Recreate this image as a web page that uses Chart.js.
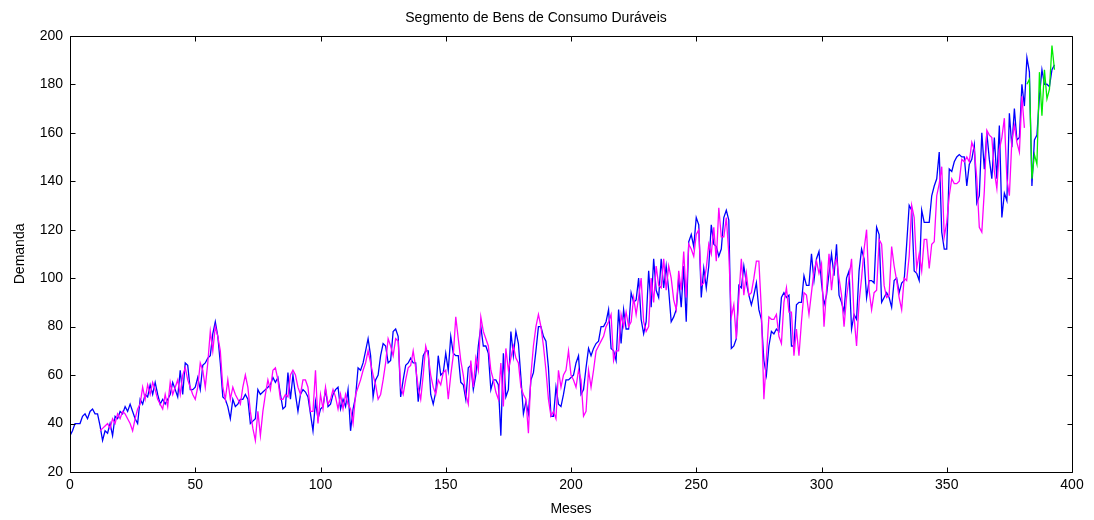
<!DOCTYPE html>
<html>
<head>
<meta charset="utf-8">
<script src="https://cdn.jsdelivr.net/npm/chart.js@4"></script>
<style>
  html, body { margin: 0; padding: 0; background: #fff; }
</style>
</head>
<body>
<canvas id="demandChart" width="1094" height="520"></canvas>
<script>
// Monthly demand, durable consumer goods segment
const observed = [
  35, 37, 40, 40, 40, 43, 44, 42, 45, 46, 44, 44, 39, 33, 37, 36, 40, 35, 43, 42,
  45, 44, 47, 45, 48, 45, 42, 40, 50, 48, 52, 51, 56, 52, 57, 52, 48, 50, 48, 50,
  52, 57, 54, 51, 62, 52, 65, 64, 54, 54, 55, 59, 54, 64, 65, 67, 68, 77, 82, 76,
  65, 51, 50, 47, 42, 50, 47, 48, 50, 50, 52, 50, 40, 41, 42, 54, 52, 53, 54, 55,
  56, 59, 57, 59, 52, 46, 47, 61, 50, 60, 52, 45, 52, 54, 53, 51, 44, 37, 49, 42,
  46, 47, 54, 47, 48, 52, 54, 55, 46, 50, 47, 54, 37, 46, 51, 63, 62, 65, 70, 75,
  68, 51, 58, 60, 68, 73, 72, 65, 66, 78, 79, 76, 51, 58, 64, 65, 67, 65, 65, 49,
  58, 68, 70, 70, 52, 48, 53, 68, 60, 61, 69, 62, 76, 69, 68, 68, 57, 56, 50, 63,
  64, 54, 60, 72, 80, 72, 72, 69, 54, 58, 58, 56, 35, 69, 51, 54, 78, 68, 78, 73,
  59, 44, 49, 44, 58, 61, 70, 80, 80, 76, 74, 63, 43, 43, 55, 48, 47, 52, 58, 58,
  59, 60, 65, 68, 52, 54, 63, 71, 68, 71, 73, 74, 80, 80, 82, 87, 71, 70, 66, 87,
  73, 87, 79, 79, 94, 90, 91, 100, 83, 77, 82, 103, 88, 108, 95, 92, 108, 96, 105, 95,
  82, 84, 87, 100, 88, 105, 82, 115, 118, 113, 125, 122, 92, 104, 96, 105, 122, 114, 113, 109,
  112, 125, 128, 124, 71, 72, 75, 97, 96, 105, 98, 93, 89, 93, 98, 87, 83, 66, 60, 72,
  78, 77, 79, 78, 92, 94, 92, 93, 72, 72, 89, 90, 90, 101, 97, 97, 110, 99, 108, 111,
  98, 89, 93, 102, 110, 101, 114, 93, 90, 86, 100, 103, 79, 85, 83, 103, 112, 108, 92, 99,
  99, 98, 121, 118, 90, 92, 94, 92, 88, 99, 100, 94, 98, 99, 114, 130, 128, 103, 102, 99,
  128, 123, 123, 123, 134, 138, 141, 152, 119, 112, 112, 145, 144, 148, 150, 151, 150, 150, 138, 147,
  149, 155, 131, 134, 160, 145, 160, 149, 141, 158, 141, 163, 125, 135, 132, 168, 154, 170, 157, 158,
  180, 171, 191, 185, 138, 157, 159, 175, 186, 180, 180, 179, 186, 188
];

// Fitted values, starting at month 12
const fittedStart = 12;
const fitted = [
  37, 38, 39, 40, 38, 42, 40, 44, 42, 45, 44, 42, 40, 37, 42, 46, 48, 55, 50, 56,
  52, 57, 54, 50, 48, 46, 52, 47, 57, 52, 55, 58, 52, 60, 63, 58, 55, 52, 50, 55,
  65, 62, 55, 65, 78, 70, 80, 76, 70, 55, 50, 58, 50, 55, 52, 50, 48, 55, 60, 55,
  45, 38, 33, 45, 35, 45, 52, 58, 54, 62, 63, 58, 50, 50, 52, 51, 60, 62, 60, 55,
  52, 58, 58, 55, 45, 45, 62, 40, 52, 46, 55, 48, 50, 54, 51, 46, 52, 46, 52, 48,
  46, 40, 52, 55, 58, 62, 65, 70, 65, 60, 56, 50, 52, 58, 65, 75, 72, 68, 75, 74,
  55, 52, 58, 63, 64, 70, 63, 55, 50, 60, 72, 68, 60, 55, 52, 58, 56, 61, 62, 50,
  60, 68, 84, 75, 66, 60, 52, 48, 66, 55, 67, 62, 84, 78, 75, 72, 62, 58, 53, 50,
  65, 47, 71, 62, 67, 72, 67, 65, 55, 52, 50, 36, 60, 72, 80, 85, 80, 72, 62, 50,
  43, 45, 42, 62, 55, 60, 62, 70, 60, 58, 55, 62, 58, 43, 45, 62, 55, 62, 70, 72,
  74, 76, 80, 82, 85, 66, 70, 70, 85, 80, 86, 80, 82, 92, 85, 92, 100, 82, 78, 80,
  100, 90, 105, 97, 96, 108, 95, 105, 100, 91, 87, 103, 95, 111, 92, 114, 112, 109, 118, 120,
  97, 98, 104, 114, 110, 121, 107, 129, 117, 117, 125, 110, 84, 89, 75, 92, 108, 93, 102, 93,
  94, 100, 107, 107, 87, 50, 67, 84, 83, 83, 85, 76, 73, 90, 96, 86, 86, 68, 79, 68,
  82, 94, 93, 85, 94, 103, 107, 102, 106, 80, 95, 110, 95, 105, 108, 100, 93, 80, 92, 100,
  108, 84, 72, 90, 100, 112, 120, 95, 87, 94, 95, 116, 114, 97, 92, 93, 113, 105, 99, 92,
  87, 100, 99, 109, 130, 125, 104, 110, 103, 116, 116, 104, 114, 115, 134, 139, 146, 117, 123, 134,
  141, 139, 139, 140, 149, 148, 150, 148, 156, 153, 141, 121, 119, 136, 161, 159, 158, 144, 137, 153,
  158, 166, 141, 134, 157, 163, 156, 152, 175, 162
];

// Forecast, starting at month 382
const forecastStart = 382;
const forecast = [180, 182, 141, 151, 147, 185, 167, 186, 174, 178, 196, 186];

const xTicks = [0, 50, 100, 150, 200, 250, 300, 350, 400];
const yTicks = [20, 40, 60, 80, 100, 120, 140, 160, 180, 200];

const toPoints = (values, start) => values.map((v, i) => ({ x: start + i, y: v }));

const axisFont = { family: "'Liberation Sans', Arial, sans-serif", size: 14 };

// box around the plot with inward tick marks on all four sides
const boxTicks = {
  id: 'boxTicks',
  afterDatasetsDraw(chart) {
    const { ctx, chartArea: a, scales: { x, y } } = chart;
    const len = 5;
    ctx.save();
    ctx.strokeStyle = '#000';
    ctx.lineWidth = 1;
    ctx.beginPath();
    const l = Math.round(a.left) + 0.5, r = Math.round(a.right) + 0.5;
    const t = Math.round(a.top) + 0.5, b = Math.round(a.bottom) + 0.5;
    ctx.rect(l, t, r - l, b - t);
    xTicks.forEach((v) => {
      const px = Math.round(x.getPixelForValue(v)) + 0.5;
      ctx.moveTo(px, b); ctx.lineTo(px, b - len);
      ctx.moveTo(px, t); ctx.lineTo(px, t + len);
    });
    yTicks.forEach((v) => {
      const py = Math.round(y.getPixelForValue(v)) + 0.5;
      ctx.moveTo(l, py); ctx.lineTo(l + len, py);
      ctx.moveTo(r, py); ctx.lineTo(r - len, py);
    });
    ctx.stroke();
    ctx.restore();
  }
};

new Chart(document.getElementById('demandChart'), {
  type: 'line',
  data: {
    datasets: [
      { data: toPoints(forecast, forecastStart), borderColor: '#00ee00', order: 0 },
      { data: toPoints(fitted, fittedStart), borderColor: '#ff00ff', order: 1 },
      { data: toPoints(observed, 0), borderColor: '#0000ff', order: 2 }
    ]
  },
  options: {
    responsive: false,
    devicePixelRatio: 1,
    animation: false,
    datasets: {
      line: { borderWidth: 1.3, pointRadius: 0, tension: 0, fill: false }
    },
    layout: { padding: { top: 0, right: 22, bottom: 0, left: 0 } },
    plugins: {
      legend: { display: false },
      tooltip: { enabled: false },
      title: {
        display: true,
        text: 'Segmento de Bens de Consumo Duráveis',
        color: '#000',
        font: { ...axisFont, weight: 'normal' },
        padding: { top: 10, bottom: 9 }
      }
    },
    scales: {
      x: {
        type: 'linear',
        min: 0,
        max: 400,
        afterFit(scale) { scale.height = 48; },
        afterBuildTicks(scale) { scale.ticks = xTicks.map((v) => ({ value: v })); },
        grid: { display: false, drawTicks: false },
        border: { display: false },
        ticks: { color: '#000', font: axisFont, padding: 5, maxRotation: 0 },
        title: { display: true, text: 'Meses', color: '#000', font: axisFont, padding: { top: 0, bottom: 2 } }
      },
      y: {
        min: 20,
        max: 200,
        afterFit(scale) { scale.width = 70; },
        afterBuildTicks(scale) { scale.ticks = yTicks.map((v) => ({ value: v })); },
        grid: { display: false, drawTicks: false },
        border: { display: false },
        ticks: { color: '#000', font: axisFont, padding: 7 },
        title: { display: true, text: 'Demanda', color: '#000', font: axisFont, padding: { top: 12, bottom: 0 } }
      }
    }
  },
  plugins: [boxTicks]
});
</script>
</body>
</html>
